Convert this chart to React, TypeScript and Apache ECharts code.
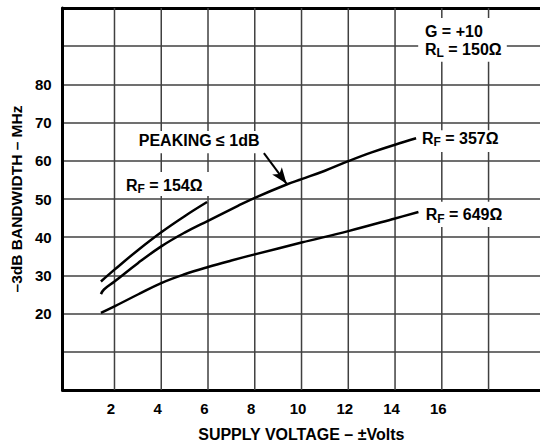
import React, { useEffect, useRef } from "react";
import * as echarts from "echarts";

// ---- data ----
const xTickLabels = [2, 4, 6, 8, 10, 12, 14, 16];
const xGridLines = [2, 4, 6, 8, 10, 12, 14, 16, 18];
const yTickLabels = [20, 30, 40, 50, 60, 70, 80];

const rf154V = [1.42, 2, 3, 4, 5, 5.96];
const rf154B = [28.4, 31.5, 36.6, 41.3, 45.5, 49.2];

const rf357V = [1.42, 1.55, 2, 3, 4, 5, 6, 7.28, 8, 9.36, 10, 11, 12, 13, 14, 14.9];
const rf357B = [25.1, 26.3, 28.4, 33.2, 37.6, 41.2, 44.3, 48.2, 50.3, 53.8, 55.2, 57.4, 59.9, 62.2, 64.2, 65.9];

const rf649V = [1.42, 2, 3, 4, 5, 6, 7, 8, 10, 12, 14, 15];
const rf649B = [20.2, 21.9, 25.0, 28.0, 30.3, 32.2, 33.9, 35.5, 38.6, 41.6, 44.9, 46.6];

const FONT = '"Liberation Sans", Arial, Helvetica, sans-serif';

let measureCtx: CanvasRenderingContext2D | null = null;
function textWidth(t: string, size: number) {
  if (!measureCtx) measureCtx = document.createElement("canvas").getContext("2d");
  if (!measureCtx) return t.length * size * 0.6;
  measureCtx.font = `bold ${size}px ${FONT}`;
  return measureCtx.measureText(t).width;
}

function txt(x: number, y: number, text: string, size: number, align = "left") {
  return {
    type: "text",
    x,
    y,
    z: 20,
    silent: true,
    style: {
      text,
      font: `bold ${size}px ${FONT}`,
      fill: "#000",
      textAlign: align,
      textVerticalAlign: "middle",
    },
  };
}

function subLabel(x: number, y: number, main: string, sub: string, rest: string) {
  const w1 = textWidth(main, 16);
  const w2 = textWidth(sub, 12);
  return [txt(x, y, main, 16), txt(x + w1, y + 4, sub, 12), txt(x + w1 + w2, y, rest, 16)];
}

export default function App() {
  const ref = useRef<HTMLDivElement>(null);
  useEffect(() => {
    if (!ref.current) return;
    const chart = echarts.init(ref.current, undefined, { renderer: "svg" });
    const frame = { color: "#000", width: 3 };
    const gridColor = "#404040";
    const labelStyle = { fontSize: 15, fontWeight: "bold", color: "#000", fontFamily: FONT };
    const curve = (v: number[], b: number[], extra: any = {}) => ({
      type: "line",
      data: v.map((x, i) => [x, b[i]]),
      smooth: 0.4,
      symbol: "none",
      z: 3,
      lineStyle: { color: "#000", width: 2.5 },
      ...extra,
    });
    const option: any = {
      animation: false,
      backgroundColor: "#fff",
      grid: { left: 60, top: 8, right: -10, bottom: 54.3 },
      xAxis: [
        {
          type: "value",
          min: -0.22,
          max: 20.2,
          position: "bottom",
          axisLine: { show: true, onZero: false, lineStyle: frame },
          axisTick: { show: false },
          splitLine: { show: false },
          axisLabel: { ...labelStyle, customValues: xTickLabels, margin: 11, padding: [0, 7, 0, 0] },
          name: "SUPPLY VOLTAGE – ±Volts",
          nameLocation: "middle",
          nameGap: 36,
          nameTextStyle: { fontSize: 16, fontWeight: "bold", color: "#000", fontFamily: FONT },
        },
        {
          type: "value",
          min: -0.22,
          max: 20.2,
          position: "top",
          axisLine: { show: true, onZero: false, lineStyle: frame },
          axisTick: { show: false },
          splitLine: { show: false },
          axisLabel: { show: false },
        },
      ],
      yAxis: {
        type: "value",
        min: 0,
        max: 100,
        interval: 10,
        axisLine: { show: true, onZero: false, lineStyle: frame },
        axisTick: { show: false },
        splitLine: { show: true, lineStyle: { color: gridColor, width: 1.5 } },
        axisLabel: {
          ...labelStyle,
          margin: 11,
          formatter: (v: number) => (yTickLabels.includes(v) ? String(v) : ""),
        },
        name: "–3dB BANDWIDTH – MHz",
        nameLocation: "middle",
        nameGap: 36,
        nameRotate: 90,
        nameTextStyle: { fontSize: 15.5, fontWeight: "bold", color: "#000", fontFamily: FONT },
      },
      series: [
        {
          type: "custom",
          silent: true,
          z: 1,
          data: xGridLines.map((v) => [v]),
          renderItem: (_p: any, api: any) => {
            const top = api.coord([api.value(0), 100]);
            const bot = api.coord([api.value(0), 0]);
            return {
              type: "line",
              shape: { x1: top[0], y1: top[1], x2: bot[0], y2: bot[1] },
              style: { stroke: gridColor, lineWidth: 1.5 },
            };
          },
        },
        curve(rf154V, rf154B),
        curve(rf357V, rf357B, {
          markLine: {
            silent: true,
            symbol: ["none", "arrow"],
            symbolSize: [9, 16],
            label: { show: false },
            lineStyle: { color: "#000", width: 2, type: "solid" },
            data: [[{ coord: [8.39, 62.0] }, { coord: [9.36, 54.0] }]],
          },
        }),
        curve(rf649V, rf649B),
      ],
    };
    chart.setOption(option);

    const px = (v: number, b: number) =>
      chart.convertToPixel({ xAxisIndex: 0, yAxisIndex: 0 }, [v, b]) as number[];
    const box = (v1: number, b1: number, v2: number, b2: number) => {
      const p1 = px(v1, b1);
      const p2 = px(v2, b2);
      return {
        type: "rect",
        z: 10,
        silent: true,
        shape: { x: p1[0], y: p1[1], width: p2[0] - p1[0], height: p2[1] - p1[1] },
        style: { fill: "#fff" },
      };
    };

    const peak = px(5.62, 65.3);
    const l154 = px(2.49, 53.65);
    const l357 = px(15.15, 65.95);
    const l649 = px(15.31, 45.93);
    const lG = px(15.28, 93.84);
    const lRL = px(15.28, 89.26);

    const graphic: any[] = [
      box(2.95, 67.8, 8.28, 62.0),
      box(2.28, 57.1, 6.2, 50.8),
      box(14.99, 68.0, 18.65, 62.3),
      box(15.1, 49.3, 18.74, 42.7),
      box(14.99, 97.4, 18.78, 85.9),
      txt(peak[0], peak[1], "PEAKING ≤ 1dB", 16, "center"),
      ...subLabel(l154[0], l154[1], "R", "F", " = 154Ω"),
      ...subLabel(l357[0], l357[1], "R", "F", " = 357Ω"),
      ...subLabel(l649[0], l649[1], "R", "F", " = 649Ω"),
      txt(lG[0], lG[1], "G = +10", 16),
      ...subLabel(lRL[0], lRL[1], "R", "L", " = 150Ω"),
    ];
    chart.setOption({ graphic });

    return () => chart.dispose();
  }, []);
  return <div ref={ref} style={{ position: "absolute", left: 0, top: 0, width: 540, height: 447 }} />;
}
